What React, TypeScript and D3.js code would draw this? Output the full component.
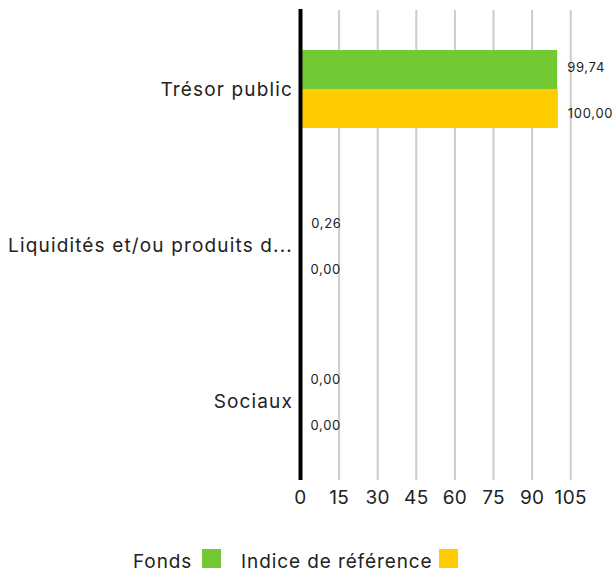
import * as d3 from 'd3';
import React, { useEffect, useRef } from 'react';

const categories = ['Trésor public', 'Liquidités et/ou produits d...', 'Sociaux'];
const fonds = [99.74, 0.26, 0.0];
const indice = [100.0, 0.0, 0.0];
const ticks = [0, 15, 30, 45, 60, 75, 90, 105];
const seriesNames = ['Fonds', 'Indice de référence'];
const colors = ['#73c934', '#ffcc00'];

const FONT = 'Inter, "Open Sans", sans-serif';

export default function App() {
  const ref = useRef<SVGSVGElement>(null);

  useEffect(() => {
    const svg = d3.select(ref.current);
    svg.selectAll('*').remove();

    const x = d3.scaleLinear().domain([0, 105]).range([300.5, 570.7]);
    const y = d3.scaleBand().domain(categories).range([11, 479]);
    const inner = d3
      .scaleBand()
      .domain(seriesNames)
      .range([y.bandwidth() * 0.25, y.bandwidth() * 0.75]);

    // gridlines
    svg
      .append('g')
      .selectAll('line')
      .data(ticks.slice(1))
      .enter()
      .append('line')
      .attr('x1', (d) => x(d))
      .attr('x2', (d) => x(d))
      .attr('y1', 10)
      .attr('y2', 480)
      .attr('stroke', '#cccccc')
      .attr('stroke-width', 2);

    const rows = categories.map((c, i) => ({ cat: c, vals: [fonds[i], indice[i]] }));

    const groups = svg
      .append('g')
      .selectAll('g')
      .data(rows)
      .enter()
      .append('g')
      .attr('transform', (d) => 'translate(0,' + y(d.cat) + ')');

    groups
      .selectAll('rect')
      .data((d) => d.vals.map((v, j) => ({ v, j })))
      .enter()
      .append('rect')
      .attr('x', x(0))
      .attr('y', (d) => inner(seriesNames[d.j]) as number)
      .attr('width', (d) => x(d.v) - x(0))
      .attr('height', inner.bandwidth())
      .attr('fill', (d) => colors[d.j]);

    // value labels, nudged apart like the original
    groups
      .selectAll('text.val')
      .data((d) => d.vals.map((v, j) => ({ v, j })))
      .enter()
      .append('text')
      .attr('class', 'val')
      .attr('x', (d) => x(d.v) + 10)
      .attr('y', (d) => (inner(seriesNames[d.j]) as number) + inner.bandwidth() / 2 + (d.j === 0 ? -2 : 4.5))
      .attr('dy', '0.35em')
      .attr('font-size', 13)
      .attr('letter-spacing', 0.7)
      .attr('font-family', FONT)
      .attr('fill', '#222')
      .text((d) => d.v.toFixed(2).replace('.', ','));

    // category labels
    svg
      .append('g')
      .selectAll('text')
      .data(categories)
      .enter()
      .append('text')
      .attr('x', 293)
      .attr('y', (d) => (y(d) as number) + y.bandwidth() / 2)
      .attr('dy', '0.35em')
      .attr('text-anchor', 'end')
      .attr('font-size', 19)
      .attr('letter-spacing', 1.15)
      .attr('font-family', FONT)
      .attr('fill', '#222')
      .text((d) => d);

    // axis line
    svg
      .append('line')
      .attr('x1', x(0))
      .attr('x2', x(0))
      .attr('y1', 9)
      .attr('y2', 480)
      .attr('stroke', '#000')
      .attr('stroke-width', 4);

    // tick labels
    svg
      .append('g')
      .selectAll('text')
      .data(ticks)
      .enter()
      .append('text')
      .attr('x', (d) => x(d))
      .attr('y', 497)
      .attr('dy', '0.35em')
      .attr('text-anchor', 'middle')
      .attr('font-size', 19)
      .attr('letter-spacing', 0.3)
      .attr('font-family', FONT)
      .attr('fill', '#222')
      .text((d) => d);

    // legend
    const legend = [
      { name: seriesNames[0], tx: 133, sx: 202 },
      { name: seriesNames[1], tx: 241, sx: 439 },
    ];
    const lg = svg.append('g');
    legend.forEach((l, i) => {
      lg.append('text')
        .attr('x', l.tx)
        .attr('y', 568)
        .attr('font-size', 19)
        .attr('letter-spacing', 0.9)
        .attr('font-family', FONT)
        .attr('fill', '#222')
        .text(l.name);
      lg.append('rect')
        .attr('x', l.sx)
        .attr('y', 549)
        .attr('width', 19)
        .attr('height', 19)
        .attr('fill', colors[i]);
    });
  }, []);

  return (
    <svg
      ref={ref}
      width={616}
      height={573}
      style={{ position: 'absolute', left: 0, top: 0 }}
    />
  );
}
